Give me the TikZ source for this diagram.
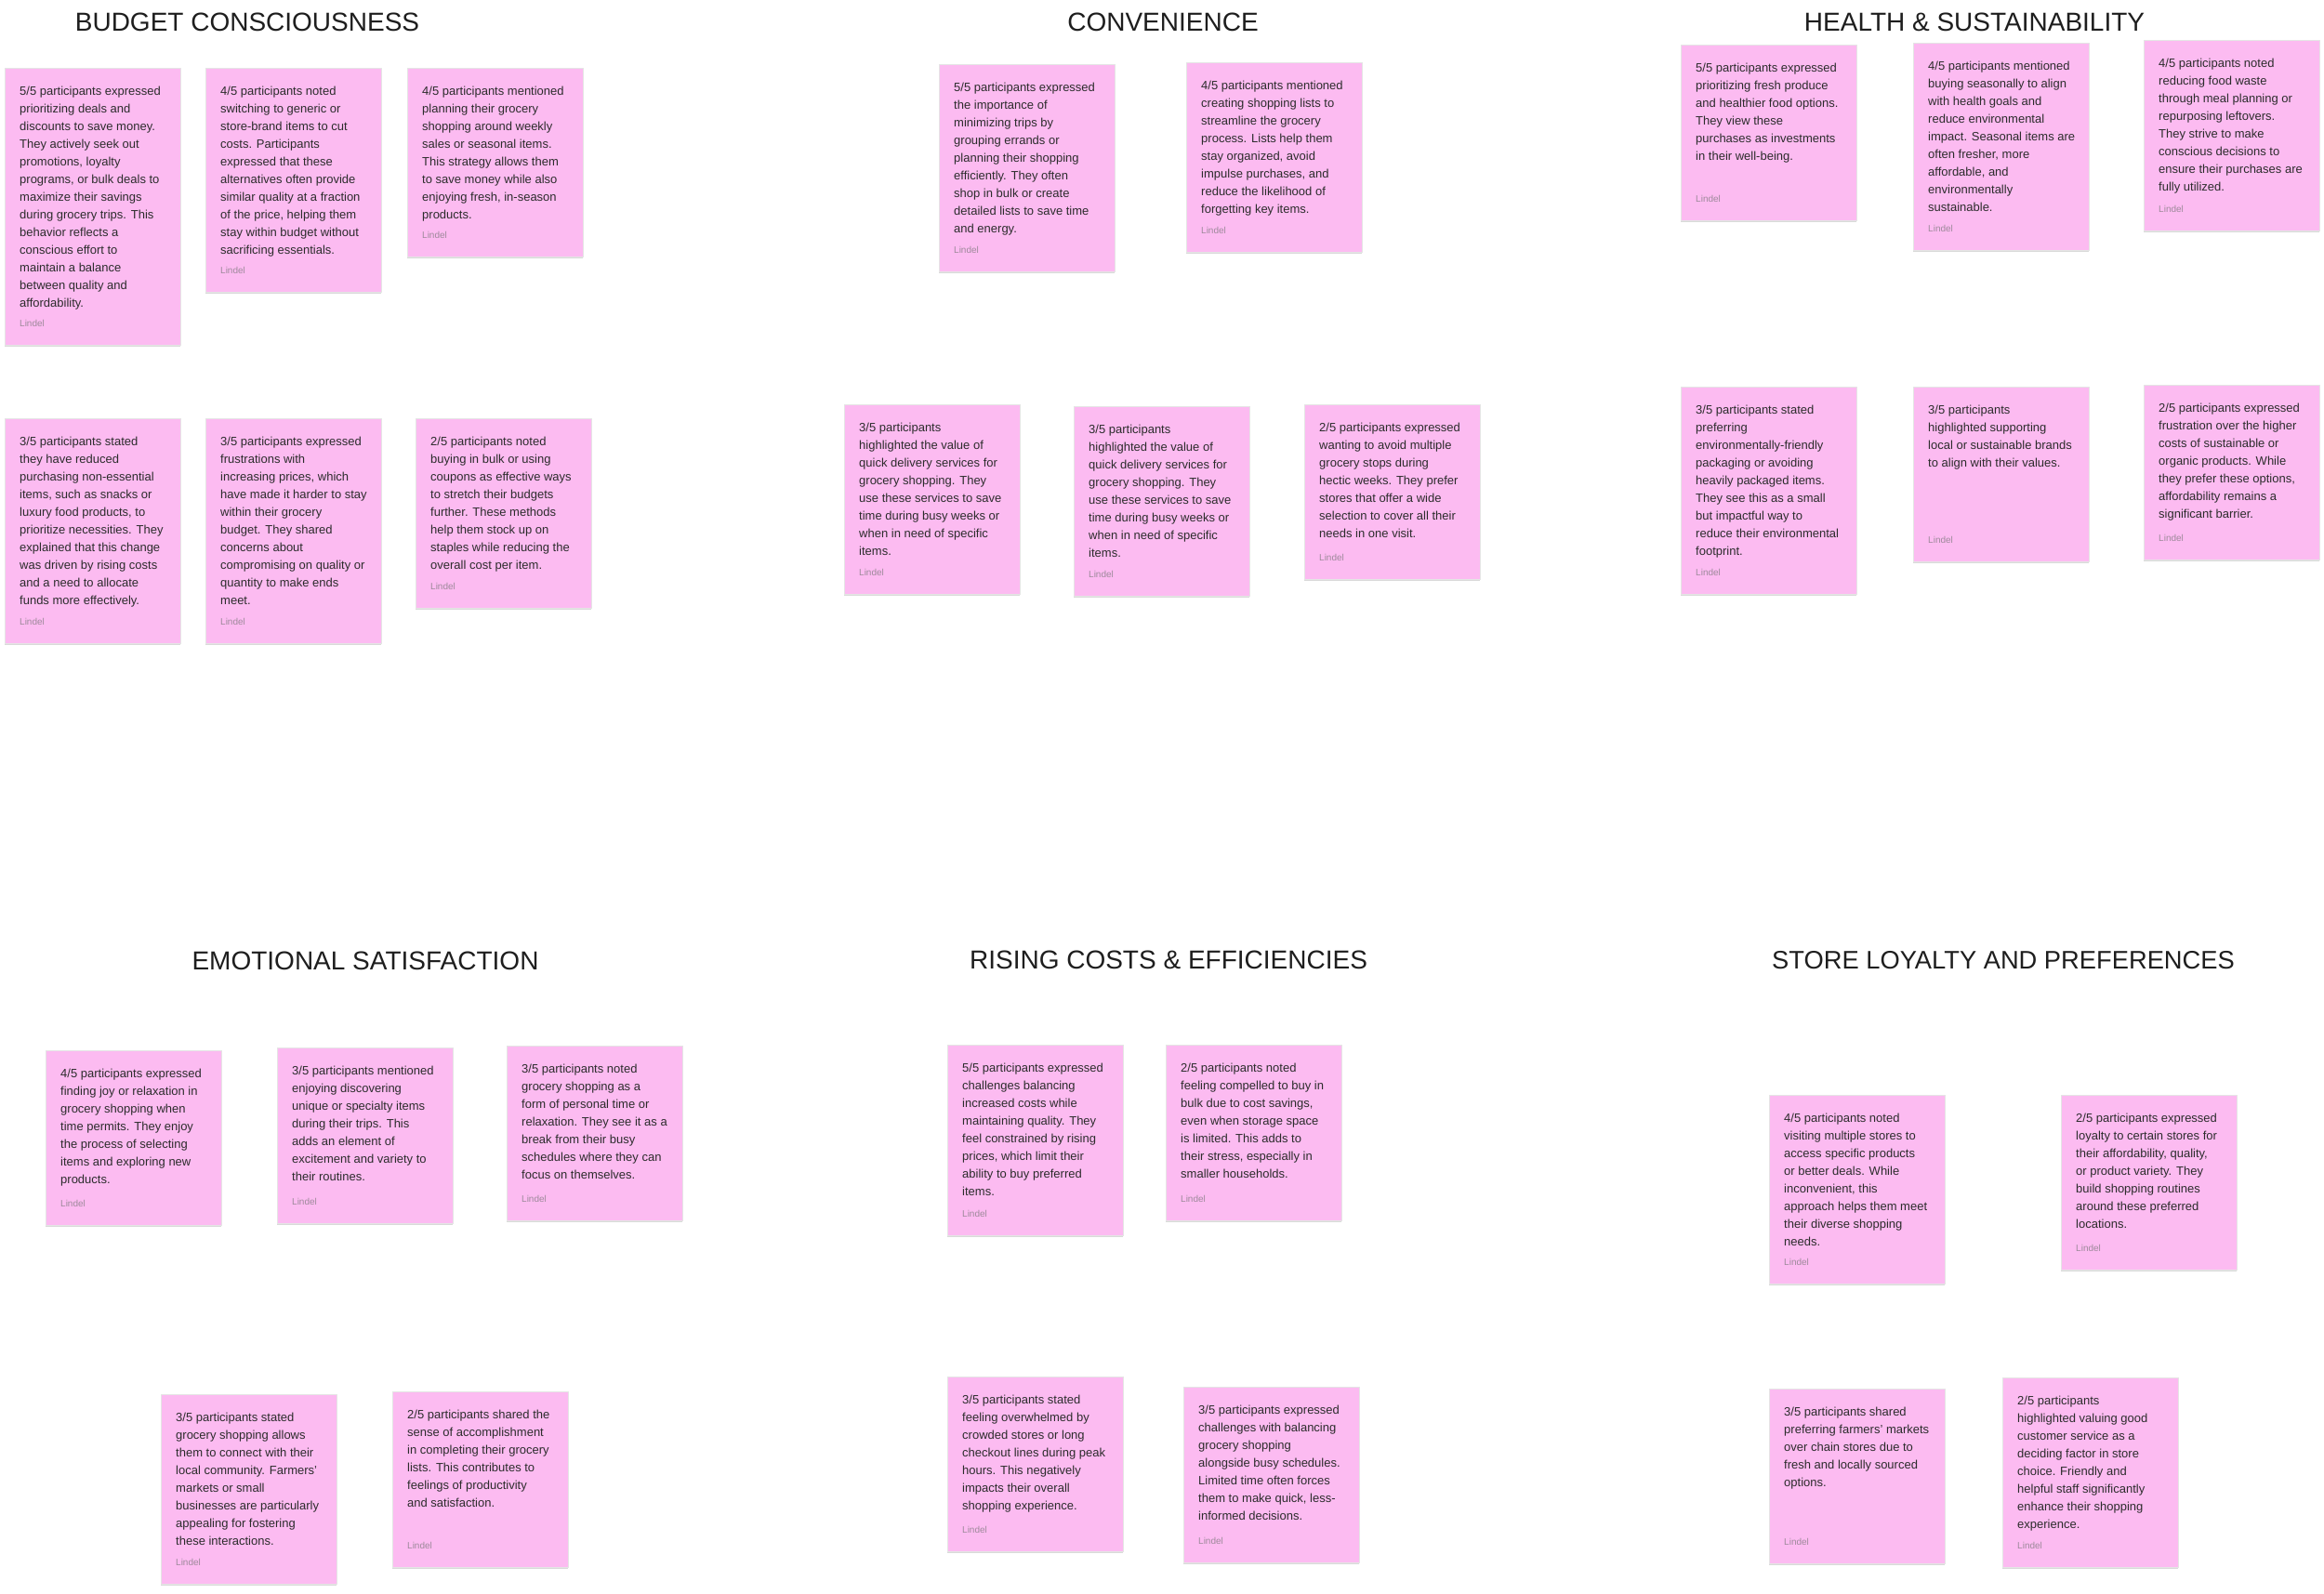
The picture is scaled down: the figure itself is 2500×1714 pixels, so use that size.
\documentclass[tikz,border=0pt]{standalone}
\usepackage{fontspec}
\setmainfont{Liberation Sans}
\usetikzlibrary{positioning, shadows}

\definecolor{notepink}{HTML}{FCBBF1}
\definecolor{inktext}{HTML}{2C2C2C}
\definecolor{inksig}{HTML}{9E8A9B}
\definecolor{inkhead}{HTML}{1E1E1E}

\tikzset{
    note/.style={rectangle, anchor=north west, minimum width=189, minimum height=#1, inner sep=0pt,
        fill=notepink, draw=black!10, line width=.5pt,
        drop shadow={shadow xshift=0pt, shadow yshift=-2pt, opacity=.15, fill=black}},
    body/.style={anchor=north west, align=left, inner sep=0pt, text=inktext, font=\fontsize{13}{19}\selectfont},
    sig/.style={anchor=south west, inner sep=0pt, text=inksig, font=\fontsize{10}{12}\selectfont},
    heading/.style={anchor=base, inner sep=0pt, text=inkhead, font=\fontsize{28}{34}\selectfont}
}

\begin{document}
\begin{tikzpicture}[x=1pt, y=-1pt]
    \useasboundingbox[fill=white] (0,0) rectangle (2500,1714);

    % Budget consciousness
    \node[heading] (budget) at (266,33) {BUDGET CONSCIOUSNESS};
    \node[note=298] (b1) at (5,73) {};
    \node[body, below right=19.7pt and 16pt of b1.north west] {5/5 participants expressed\\prioritizing deals and\\discounts to save money.\\They actively seek out\\promotions, loyalty\\programs, or bulk deals to\\maximize their savings\\during grocery trips. This\\behavior reflects a\\conscious effort to\\maintain a balance\\between quality and\\affordability.};
    \node[sig, above right=19.5pt and 16pt of b1.south west] {Lindel};
    \node[note=241] (b2) at (221,73) {};
    \node[body, below right=19.7pt and 16pt of b2.north west] {4/5 participants noted\\switching to generic or\\store-brand items to cut\\costs. Participants\\expressed that these\\alternatives often provide\\similar quality at a fraction\\of the price, helping them\\stay within budget without\\sacrificing essentials.};
    \node[sig, above right=19.5pt and 16pt of b2.south west] {Lindel};
    \node[note=203] (b3) at (438,73) {};
    \node[body, below right=19.7pt and 16pt of b3.north west] {4/5 participants mentioned\\planning their grocery\\shopping around weekly\\sales or seasonal items.\\This strategy allows them\\to save money while also\\enjoying fresh, in-season\\products.};
    \node[sig, above right=19.5pt and 16pt of b3.south west] {Lindel};
    \node[note=242] (b4) at (5,450) {};
    \node[body, below right=19.7pt and 16pt of b4.north west] {3/5 participants stated\\they have reduced\\purchasing non-essential\\items, such as snacks or\\luxury food products, to\\prioritize necessities. They\\explained that this change\\was driven by rising costs\\and a need to allocate\\funds more effectively.};
    \node[sig, above right=19.5pt and 16pt of b4.south west] {Lindel};
    \node[note=242] (b5) at (221,450) {};
    \node[body, below right=19.7pt and 16pt of b5.north west] {3/5 participants expressed\\frustrations with\\increasing prices, which\\have made it harder to stay\\within their grocery\\budget. They shared\\concerns about\\compromising on quality or\\quantity to make ends\\meet.};
    \node[sig, above right=19.5pt and 16pt of b5.south west] {Lindel};
    \node[note=204] (b6) at (447,450) {};
    \node[body, below right=19.7pt and 16pt of b6.north west] {2/5 participants noted\\buying in bulk or using\\coupons as effective ways\\to stretch their budgets\\further. These methods\\help them stock up on\\staples while reducing the\\overall cost per item.};
    \node[sig, above right=19.5pt and 16pt of b6.south west] {Lindel};

    % Convenience
    \node[heading] (conv) at (1251,33) {CONVENIENCE};
    \node[note=223] (c1) at (1010,69) {};
    \node[body, below right=19.7pt and 16pt of c1.north west] {5/5 participants expressed\\the importance of\\minimizing trips by\\grouping errands or\\planning their shopping\\efficiently. They often\\shop in bulk or create\\detailed lists to save time\\and energy.};
    \node[sig, above right=19.5pt and 16pt of c1.south west] {Lindel};
    \node[note=204] (c2) at (1276,67) {};
    \node[body, below right=19.7pt and 16pt of c2.north west] {4/5 participants mentioned\\creating shopping lists to\\streamline the grocery\\process. Lists help them\\stay organized, avoid\\impulse purchases, and\\reduce the likelihood of\\forgetting key items.};
    \node[sig, above right=19.5pt and 16pt of c2.south west] {Lindel};
    \node[note=204] (c3) at (908,435) {};
    \node[body, below right=19.7pt and 16pt of c3.north west] {3/5 participants\\highlighted the value of\\quick delivery services for\\grocery shopping. They\\use these services to save\\time during busy weeks or\\when in need of specific\\items.};
    \node[sig, above right=19.5pt and 16pt of c3.south west] {Lindel};
    \node[note=204] (c4) at (1155,437) {};
    \node[body, below right=19.7pt and 16pt of c4.north west] {3/5 participants\\highlighted the value of\\quick delivery services for\\grocery shopping. They\\use these services to save\\time during busy weeks or\\when in need of specific\\items.};
    \node[sig, above right=19.5pt and 16pt of c4.south west] {Lindel};
    \node[note=188] (c5) at (1403,435) {};
    \node[body, below right=19.7pt and 16pt of c5.north west] {2/5 participants expressed\\wanting to avoid multiple\\grocery stops during\\hectic weeks. They prefer\\stores that offer a wide\\selection to cover all their\\needs in one visit.};
    \node[sig, above right=19.5pt and 16pt of c5.south west] {Lindel};

    % Health & sustainability
    \node[heading] (health) at (2124,33) {HEALTH \& SUSTAINABILITY};
    \node[note=189] (h1) at (1808,48) {};
    \node[body, below right=19.7pt and 16pt of h1.north west] {5/5 participants expressed\\prioritizing fresh produce\\and healthier food options.\\They view these\\purchases as investments\\in their well-being.};
    \node[sig, above right=19.5pt and 16pt of h1.south west] {Lindel};
    \node[note=223] (h2) at (2058,46) {};
    \node[body, below right=19.7pt and 16pt of h2.north west] {4/5 participants mentioned\\buying seasonally to align\\with health goals and\\reduce environmental\\impact. Seasonal items are\\often fresher, more\\affordable, and\\environmentally\\sustainable.};
    \node[sig, above right=19.5pt and 16pt of h2.south west] {Lindel};
    \node[note=205] (h3) at (2306,43) {};
    \node[body, below right=19.7pt and 16pt of h3.north west] {4/5 participants noted\\reducing food waste\\through meal planning or\\repurposing leftovers.\\They strive to make\\conscious decisions to\\ensure their purchases are\\fully utilized.};
    \node[sig, above right=19.5pt and 16pt of h3.south west] {Lindel};
    \node[note=223] (h4) at (1808,416) {};
    \node[body, below right=19.7pt and 16pt of h4.north west] {3/5 participants stated\\preferring\\environmentally-friendly\\packaging or avoiding\\heavily packaged items.\\They see this as a small\\but impactful way to\\reduce their environmental\\footprint.};
    \node[sig, above right=19.5pt and 16pt of h4.south west] {Lindel};
    \node[note=188] (h5) at (2058,416) {};
    \node[body, below right=19.7pt and 16pt of h5.north west] {3/5 participants\\highlighted supporting\\local or sustainable brands\\to align with their values.};
    \node[sig, above right=19.5pt and 16pt of h5.south west] {Lindel};
    \node[note=188] (h6) at (2306,414) {};
    \node[body, below right=19.7pt and 16pt of h6.north west] {2/5 participants expressed\\frustration over the higher\\costs of sustainable or\\organic products. While\\they prefer these options,\\affordability remains a\\significant barrier.};
    \node[sig, above right=19.5pt and 16pt of h6.south west] {Lindel};

    % Emotional satisfaction
    \node[heading] (emo) at (393,1043) {EMOTIONAL SATISFACTION};
    \node[note=188] (e1) at (49,1130) {};
    \node[body, below right=19.7pt and 16pt of e1.north west] {4/5 participants expressed\\finding joy or relaxation in\\grocery shopping when\\time permits. They enjoy\\the process of selecting\\items and exploring new\\products.};
    \node[sig, above right=19.5pt and 16pt of e1.south west] {Lindel};
    \node[note=189] (e2) at (298,1127) {};
    \node[body, below right=19.7pt and 16pt of e2.north west] {3/5 participants mentioned\\enjoying discovering\\unique or specialty items\\during their trips. This\\adds an element of\\excitement and variety to\\their routines.};
    \node[sig, above right=19.5pt and 16pt of e2.south west] {Lindel};
    \node[note=188] (e3) at (545,1125) {};
    \node[body, below right=19.7pt and 16pt of e3.north west] {3/5 participants noted\\grocery shopping as a\\form of personal time or\\relaxation. They see it as a\\break from their busy\\schedules where they can\\focus on themselves.};
    \node[sig, above right=19.5pt and 16pt of e3.south west] {Lindel};
    \node[note=204] (e4) at (173,1500) {};
    \node[body, below right=19.7pt and 16pt of e4.north west] {3/5 participants stated\\grocery shopping allows\\them to connect with their\\local community. Farmers’\\markets or small\\businesses are particularly\\appealing for fostering\\these interactions.};
    \node[sig, above right=19.5pt and 16pt of e4.south west] {Lindel};
    \node[note=189] (e5) at (422,1497) {};
    \node[body, below right=19.7pt and 16pt of e5.north west] {2/5 participants shared the\\sense of accomplishment\\in completing their grocery\\lists. This contributes to\\feelings of productivity\\and satisfaction.};
    \node[sig, above right=19.5pt and 16pt of e5.south west] {Lindel};

    % Rising costs & efficiencies
    \node[heading] (rising) at (1257,1042) {RISING COSTS \& EFFICIENCIES};
    \node[note=205] (r1) at (1019,1124) {};
    \node[body, below right=19.7pt and 16pt of r1.north west] {5/5 participants expressed\\challenges balancing\\increased costs while\\maintaining quality. They\\feel constrained by rising\\prices, which limit their\\ability to buy preferred\\items.};
    \node[sig, above right=19.5pt and 16pt of r1.south west] {Lindel};
    \node[note=189] (r2) at (1254,1124) {};
    \node[body, below right=19.7pt and 16pt of r2.north west] {2/5 participants noted\\feeling compelled to buy in\\bulk due to cost savings,\\even when storage space\\is limited. This adds to\\their stress, especially in\\smaller households.};
    \node[sig, above right=19.5pt and 16pt of r2.south west] {Lindel};
    \node[note=188] (r3) at (1019,1481) {};
    \node[body, below right=19.7pt and 16pt of r3.north west] {3/5 participants stated\\feeling overwhelmed by\\crowded stores or long\\checkout lines during peak\\hours. This negatively\\impacts their overall\\shopping experience.};
    \node[sig, above right=19.5pt and 16pt of r3.south west] {Lindel};
    \node[note=189] (r4) at (1273,1492) {};
    \node[body, below right=19.7pt and 16pt of r4.north west] {3/5 participants expressed\\challenges with balancing\\grocery shopping\\alongside busy schedules.\\Limited time often forces\\them to make quick, less-\\informed decisions.};
    \node[sig, above right=19.5pt and 16pt of r4.south west] {Lindel};

    % Store loyalty and preferences
    \node[heading, font=\fontsize{27.3}{33}\selectfont] (store) at (2155,1042) {STORE LOYALTY AND PREFERENCES};
    \node[note=203] (s1) at (1903,1178) {};
    \node[body, below right=19.7pt and 16pt of s1.north west] {4/5 participants noted\\visiting multiple stores to\\access specific products\\or better deals. While\\inconvenient, this\\approach helps them meet\\their diverse shopping\\needs.};
    \node[sig, above right=19.5pt and 16pt of s1.south west] {Lindel};
    \node[note=188] (s2) at (2217,1178) {};
    \node[body, below right=19.7pt and 16pt of s2.north west] {2/5 participants expressed\\loyalty to certain stores for\\their affordability, quality,\\or product variety. They\\build shopping routines\\around these preferred\\locations.};
    \node[sig, above right=19.5pt and 16pt of s2.south west] {Lindel};
    \node[note=188] (s3) at (1903,1494) {};
    \node[body, below right=19.7pt and 16pt of s3.north west] {3/5 participants shared\\preferring farmers’ markets\\over chain stores due to\\fresh and locally sourced\\options.};
    \node[sig, above right=19.5pt and 16pt of s3.south west] {Lindel};
    \node[note=204] (s4) at (2154,1482) {};
    \node[body, below right=19.7pt and 16pt of s4.north west] {2/5 participants\\highlighted valuing good\\customer service as a\\deciding factor in store\\choice. Friendly and\\helpful staff significantly\\enhance their shopping\\experience.};
    \node[sig, above right=19.5pt and 16pt of s4.south west] {Lindel};
\end{tikzpicture}
\end{document}
